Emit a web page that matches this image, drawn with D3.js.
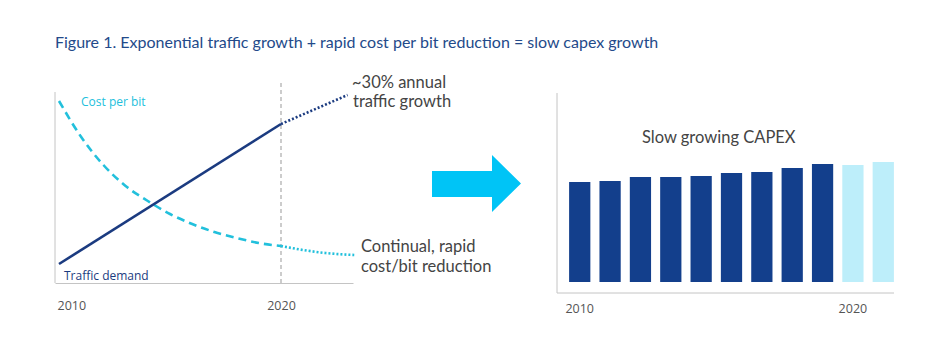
<!DOCTYPE html>
<html lang="en">
<head>
    <meta charset="UTF-8">
    <title>slow capex growth</title>
    <script src="https://d3js.org/d3.v7.min.js"></script>
    <style>
        body { margin: 0; background: #fff; }
        text { font-family: "Lato", "Open Sans", sans-serif; }
        .small { font-family: "Open Sans", sans-serif; }
    </style>
</head>
<body>
    <svg></svg>
    <script>
        const width = 942;
        const height = 350;

        // left chart data
        const trafficYears = [2010, 2020];
        const trafficValues = [9.5, 79.5];
        const trafficForecastYears = [2020, 2023];
        const trafficForecastValues = [79.5, 94];

        const costYears = [2010, 2011, 2012, 2013, 2014, 2015, 2016, 2017, 2018, 2019, 2020];
        const costValues = [91, 73, 59, 48.5, 41, 34.5, 29.5, 25.5, 22.5, 20, 18.5];
        const costForecastYears = [2020, 2021, 2022, 2023.3];
        const costForecastValues = [18.5, 16.5, 15, 14];

        const leftTicks = [2010, 2020];

        // right chart data
        const capexCategories = ["2010", "2011", "2012", "2013", "2014", "2015", "2016", "2017", "2018", "2020", "2021"];
        const capexValues = [100, 101, 105, 105, 106, 109, 110, 114, 118, 117, 120];
        const capexForecast = [false, false, false, false, false, false, false, false, false, true, true];
        const rightTicks = ["2010", "2020"];

        const navy = "#1b3b80";
        const cyan = "#22c0dc";
        const grey = "#444";

        const svg = d3.select("svg")
            .attr("width", width)
            .attr("height", height);

        // 标题
        svg.append("text")
            .attr("x", 55)
            .attr("y", 48)
            .attr("font-size", 16)
            .attr("fill", "#234a8a")
            .text("Figure 1. Exponential traffic growth + rapid cost per bit reduction = slow capex growth");

        // ---------- left chart ----------
        const xl = d3.scaleLinear().domain([2010, 2020]).range([59, 281]);
        const yl = d3.scaleLinear().domain([0, 100]).range([283, 83]);

        // axes
        svg.append("line")
            .attr("x1", 55).attr("x2", 55).attr("y1", 92).attr("y2", 283)
            .attr("stroke", "#c4c4c4");
        svg.append("g")
            .attr("transform", "translate(0, 283)")
            .call(d3.axisBottom(xl.copy().domain([xl.invert(55), xl.invert(353)]).range([55, 353]))
                .tickValues(leftTicks).tickSize(0).tickPadding(18).tickFormat(d3.format("d")))
            .call(g => g.select(".domain").attr("stroke", "#c4c4c4"))
            .selectAll("text")
                .attr("class", "small")
                .attr("font-size", 12.5)
                .attr("fill", "#555")
                .attr("text-anchor", (d, i) => i === 0 ? "start" : "middle")
                .attr("dx", (d, i) => i === 0 ? -2 : 0);

        // 2020 marker
        svg.append("line")
            .attr("x1", xl(2020)).attr("x2", xl(2020))
            .attr("y1", 83).attr("y2", 283)
            .attr("stroke", "#999")
            .attr("stroke-dasharray", "4,3");

        const lineL = d3.line()
            .x(d => xl(d[0]))
            .y(d => yl(d[1]))
            .curve(d3.curveMonotoneX);

        svg.append("path")
            .datum(d3.zip(costYears, costValues))
            .attr("fill", "none")
            .attr("stroke", cyan)
            .attr("stroke-width", 2.6)
            .attr("stroke-dasharray", "8,5")
            .attr("d", lineL);
        svg.append("path")
            .datum(d3.zip(costForecastYears, costForecastValues))
            .attr("fill", "none")
            .attr("stroke", cyan)
            .attr("stroke-width", 2.6)
            .attr("stroke-dasharray", "2,2")
            .attr("d", lineL);

        svg.append("path")
            .datum(d3.zip(trafficYears, trafficValues))
            .attr("fill", "none")
            .attr("stroke", navy)
            .attr("stroke-width", 2.6)
            .attr("d", lineL);
        svg.append("path")
            .datum(d3.zip(trafficForecastYears, trafficForecastValues))
            .attr("fill", "none")
            .attr("stroke", navy)
            .attr("stroke-width", 2.6)
            .attr("stroke-dasharray", "2,2")
            .attr("d", lineL);

        svg.append("text")
            .attr("class", "small")
            .attr("x", 81).attr("y", 106)
            .attr("font-size", 12)
            .attr("fill", cyan)
            .text("Cost per bit");
        svg.append("text")
            .attr("class", "small")
            .attr("x", 64).attr("y", 280)
            .attr("font-size", 12)
            .attr("fill", navy)
            .text("Traffic demand");

        // annotations
        const ann = svg.append("g")
            .attr("font-size", 16.5)
            .attr("fill", grey);
        ann.append("text").attr("x", 352).attr("y", 88).text("~30% annual");
        ann.append("text").attr("x", 353).attr("y", 107).text("traffic growth");
        ann.append("text").attr("x", 361).attr("y", 252).text("Continual, rapid");
        ann.append("text").attr("x", 361).attr("y", 272).text("cost/bit reduction");

        // 箭头
        svg.append("path")
            .attr("d", "M432,171 H492 V155 L521,183.5 L492,212 V197 H432 Z")
            .attr("fill", "#00c4f6");

        // ---------- right chart ----------
        const xr = d3.scaleBand()
            .domain(capexCategories)
            .range([560, 903])
            .paddingInner(0.3)
            .paddingOuter(0.3);
        const yr = d3.scaleLinear().domain([0, 120]).range([282, 162]);

        svg.append("line")
            .attr("x1", 557).attr("x2", 557).attr("y1", 93).attr("y2", 293)
            .attr("stroke", "#c4c4c4");
        svg.append("line")
            .attr("x1", 557).attr("x2", 894).attr("y1", 293).attr("y2", 293)
            .attr("stroke", "#c4c4c4");

        svg.append("g")
            .attr("transform", "translate(0, 293)")
            .call(d3.axisBottom(xr).tickValues(rightTicks).tickSize(0).tickPadding(11))
            .call(g => g.select(".domain").remove())
            .selectAll("text")
                .attr("class", "small")
                .attr("font-size", 12.5)
                .attr("fill", "#555");

        svg.append("g")
            .selectAll("rect")
            .data(capexValues)
            .enter()
            .append("rect")
                .attr("x", (d, i) => xr(capexCategories[i]))
                .attr("y", d => yr(d))
                .attr("width", xr.bandwidth())
                .attr("height", d => yr(0) - yr(d))
                .attr("fill", (d, i) => capexForecast[i] ? "#bdeefa" : "#133f8c");

        svg.append("text")
            .attr("x", 642).attr("y", 143)
            .attr("font-size", 16.5)
            .attr("fill", grey)
            .text("Slow growing CAPEX");
    </script>
</body>
</html>
